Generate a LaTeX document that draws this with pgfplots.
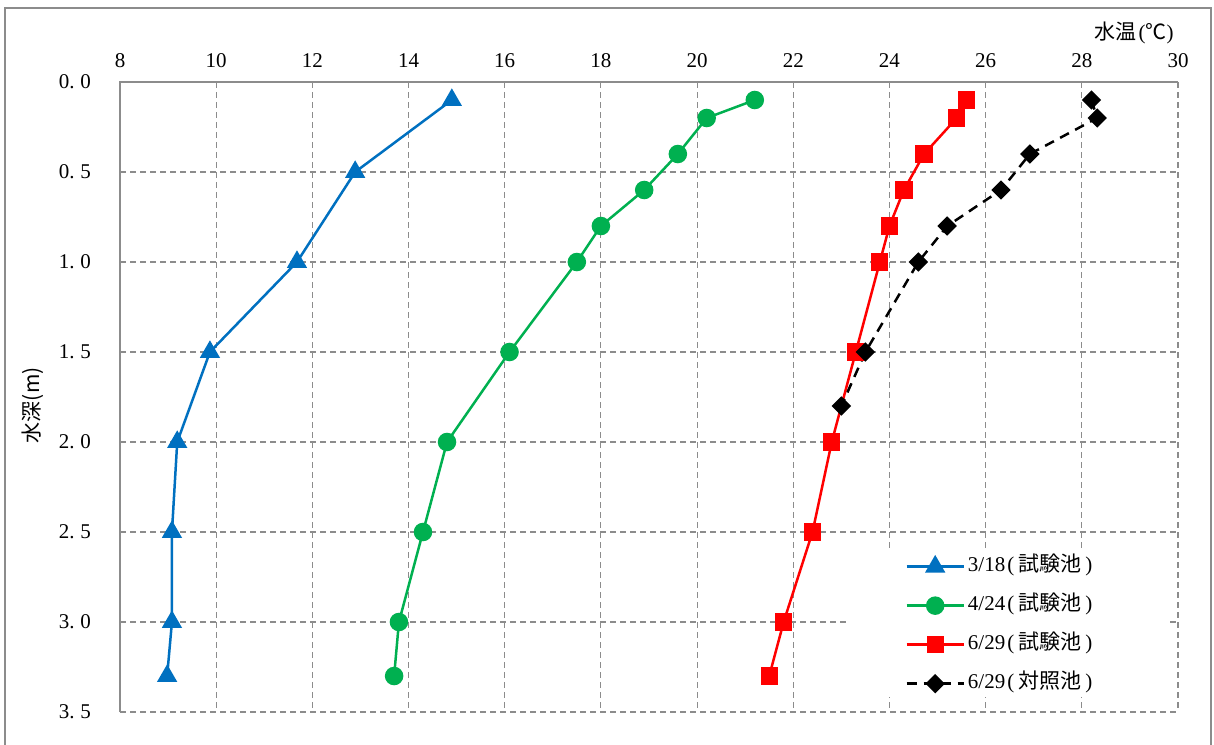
\documentclass[border=0pt]{standalone}
\usepackage{pgfplots}
\pgfplotsset{compat=1.18}
\usepackage{fontspec}
\setmainfont{Liberation Serif}
\newfontfamily\cjk{Noto Sans CJK JP}
\definecolor{cblue}{HTML}{0070C0}
\definecolor{cgreen}{HTML}{00B050}
\definecolor{cred}{HTML}{FF0000}
\definecolor{cgrid}{HTML}{8C8C8C}
\newcommand{\dd}{\hspace{0.28em}}
\begin{document}
\begin{tikzpicture}[x=1pt,y=1pt]
\useasboundingbox (0,0) rectangle (607,372);
\draw[cgrid, line width=0.7pt] (2.5,-5) -- (2.5,368) -- (605.5,368) -- (605.5,-5);
\begin{axis}[
  at={(60pt,16pt)}, anchor=south west,
  scale only axis, width=529pt, height=315pt,
  xmin=8, xmax=30, ymin=0, ymax=3.5, y dir=reverse,
  axis line style={draw=none},
  xtick={8,10,...,30},
  ytick={0,0.5,1,1.5,2,2.5,3,3.5},
  yticklabels={0.\dd0,0.\dd5,1.\dd0,1.\dd5,2.\dd0,2.\dd5,3.\dd0,3.\dd5},
  /pgf/number format/assume math mode=true,
  xticklabel pos=upper,
  major tick length=0pt,
  grid=major,
  grid style={cgrid, line width=0.55pt, dash pattern=on 3pt off 2pt},
  tick label style={font=\fontsize{10.5}{12}\selectfont},
  xticklabel style={yshift=3.5pt},
  yticklabel style={xshift=-11pt},
  ylabel={{\cjk\fontsize{10.5}{12}\selectfont 水深(m)}},
  ylabel style={at={(axis description cs:0,0.487)}, anchor=south, yshift=34.5pt},
  clip=false,
  legend cell align=left,
  legend style={at={(0.742,0.252)}, anchor=north west, draw=none, fill=none,
    row sep=6.5pt, inner sep=0pt, font=\fontsize{10.5}{12}\selectfont,
    nodes={inner sep=1.5pt, text height=7.5pt, text depth=2.5pt}},
  legend image code/.code={\draw[mark repeat=2,mark phase=2,#1] plot coordinates {(0pt,0pt) (14.25pt,0pt) (28.5pt,0pt)};},
]
\draw[cgrid, line width=0.7pt] (axis cs:8,3.5) -- (axis cs:8,0) -- (axis cs:30,0);
\node[anchor=east, inner sep=0pt] at (axis cs:30,0) [yshift=24.5pt, xshift=-2pt] {\fontsize{10.5}{12}\selectfont{\cjk 水温}\hspace{1pt}({\cjk ℃})};
\fill[white] (axis cs:23.1,2.589) rectangle (axis cs:29.75,3.417);

\addplot[cblue, line width=1.25pt, mark=triangle*, mark size=4.6pt] coordinates {
(14.9,0.1) (12.89,0.5) (11.68,1.0) (9.87,1.5) (9.19,2.0) (9.08,2.5) (9.08,3.0) (8.98,3.3)};
\addlegendentry{3/18\hspace{1pt}(\hspace{2pt}{\cjk 試験池}\hspace{2pt})}

\addplot[cgreen, line width=1.25pt, mark=*, mark size=4pt] coordinates {
(21.2,0.1) (20.2,0.2) (19.6,0.4) (18.9,0.6) (18.0,0.8) (17.5,1.0) (16.1,1.5) (14.8,2.0) (14.3,2.5) (13.8,3.0) (13.7,3.3)};
\addlegendentry{4/24\hspace{1pt}(\hspace{2pt}{\cjk 試験池}\hspace{2pt})}

\addplot[cred, line width=1.25pt, mark=square*, mark size=3.7pt] coordinates {
(25.6,0.1) (25.4,0.2) (24.72,0.4) (24.3,0.6) (24.0,0.8) (23.8,1.0) (23.3,1.5) (22.8,2.0) (22.4,2.5) (21.8,3.0) (21.5,3.3)};
\addlegendentry{6/29\hspace{1pt}(\hspace{2pt}{\cjk 試験池}\hspace{2pt})}

\addplot[black, line width=1.25pt, dash pattern=on 5pt off 3.5pt, mark=square*, mark size=2.8pt, mark options={solid, rotate=45}] coordinates {
(28.2,0.1) (28.32,0.2) (26.92,0.4) (26.32,0.6) (25.2,0.8) (24.6,1.0) (23.5,1.5) (23.0,1.8)};
\addlegendentry{6/29\hspace{1pt}(\hspace{2pt}{\cjk 対照池}\hspace{2pt})}
\end{axis}
\end{tikzpicture}
\end{document}
